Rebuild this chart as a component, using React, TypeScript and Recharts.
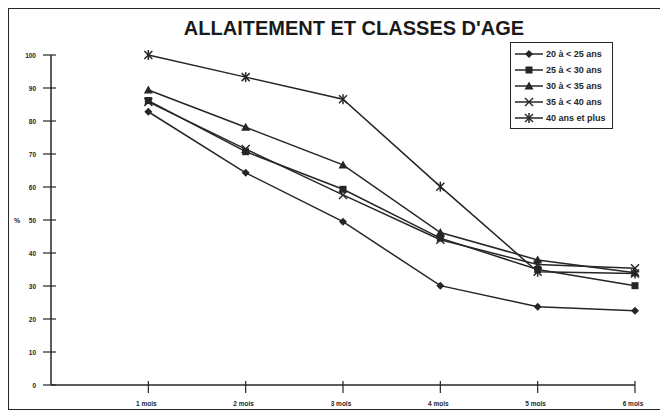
import { LineChart, Line, XAxis, YAxis } from 'recharts'

const months = [1, 2, 3, 4, 5, 6]
const monthLabels = ['1 mois', '2 mois', '3 mois', '4 mois', '5 mois', '6 mois']
const yTicks = [0, 10, 20, 30, 40, 50, 60, 70, 80, 90, 100]

const age20 = [82.8, 64.3, 49.5, 30.1, 23.7, 22.5]
const age25 = [86.2, 70.7, 59.3, 44.5, 35.0, 30.1]
const age30 = [89.4, 78.1, 66.7, 46.2, 37.9, 34.0]
const age35 = [85.8, 71.5, 57.6, 44.0, 36.5, 35.4]
const age40 = [100, 93.3, 86.6, 60.1, 34.3, 33.8]

const INK = '#262626'

const data = months.map((m, i) => ({
  m,
  a20: age20[i],
  a25: age25[i],
  a30: age30[i],
  a35: age35[i],
  a40: age40[i],
}))

const drawMarker = (kind: string, cx: number, cy: number, key?: any) => {
  switch (kind) {
    case 'diamond':
      return <path key={key} d={`M${cx},${cy - 4}L${cx + 4},${cy}L${cx},${cy + 4}L${cx - 4},${cy}Z`} fill={INK} />
    case 'square':
      return <rect key={key} x={cx - 3.5} y={cy - 3.5} width={7} height={7} fill={INK} />
    case 'triangle':
      return <path key={key} d={`M${cx},${cy - 4.5}L${cx + 4.5},${cy + 3.5}L${cx - 4.5},${cy + 3.5}Z`} fill={INK} />
    case 'cross':
      return (
        <g key={key} stroke={INK} strokeWidth={1.5}>
          <line x1={cx - 4} y1={cy - 4} x2={cx + 4} y2={cy + 4} />
          <line x1={cx - 4} y1={cy + 4} x2={cx + 4} y2={cy - 4} />
        </g>
      )
    default:
      return (
        <g key={key} stroke={INK} strokeWidth={1.5}>
          <line x1={cx - 4} y1={cy - 4} x2={cx + 4} y2={cy + 4} />
          <line x1={cx - 4} y1={cy + 4} x2={cx + 4} y2={cy - 4} />
          <line x1={cx} y1={cy - 5} x2={cx} y2={cy + 5} />
        </g>
      )
  }
}

const series = [
  { key: 'a20', name: '20 à < 25 ans', marker: 'diamond' },
  { key: 'a25', name: '25 à < 30 ans', marker: 'square' },
  { key: 'a30', name: '30 à < 35 ans', marker: 'triangle' },
  { key: 'a35', name: '35 à < 40 ans', marker: 'cross' },
  { key: 'a40', name: '40 ans et plus', marker: 'star' },
]

const tickFont = { fontFamily: 'Liberation Sans, Arial, sans-serif', fontWeight: 700, fontSize: 6.5, fill: INK }

const YTick = ({ x, y, payload }: any) => (
  <g>
    <line x1={x - 6} y1={y} x2={x + 7} y2={y} stroke={INK} strokeWidth={1.2} />
    <text x={x - 13} y={y} dy={2.5} textAnchor="end" {...tickFont}>
      {payload.value}
    </text>
  </g>
)

const XTick = ({ x, y, payload }: any) => (
  <g>
    <line x1={x} y1={y - 6} x2={x} y2={y + 6} stroke={INK} strokeWidth={1.2} />
    <text x={x - 2} y={y + 19} textAnchor="middle" {...tickFont}>
      {monthLabels[months.indexOf(payload.value)]}
    </text>
  </g>
)

const LegendBox = () => (
  <div
    style={{
      position: 'absolute',
      left: 501,
      top: 33,
      border: `1.5px solid ${INK}`,
      background: '#fff',
      padding: '3px 4px 2px 3px',
      width: 94,
    }}
  >
    {series.map((s) => (
      <div key={s.key} style={{ display: 'flex', alignItems: 'center', height: 16 }}>
        <svg width={30} height={12}>
          <line x1={1} y1={6} x2={29} y2={6} stroke={INK} strokeWidth={1.5} />
          {drawMarker(s.marker, 15, 6)}
        </svg>
        <span
          style={{
            fontFamily: 'Liberation Sans, Arial, sans-serif',
            fontWeight: 700,
            fontSize: 9,
            color: INK,
            marginLeft: 2,
            whiteSpace: 'nowrap',
          }}
        >
          {s.name}
        </span>
      </div>
    ))}
  </div>
)

export default function App() {
  return (
    <div
      style={{
        position: 'relative',
        width: 654,
        height: 400,
        border: `1.5px solid ${INK}`,
        background: '#fff',
      }}
    >
      <div
        style={{
          position: 'absolute',
          top: 8,
          left: 18,
          width: 654,
          textAlign: 'center',
          fontFamily: 'Liberation Sans, Arial, sans-serif',
          fontWeight: 700,
          fontSize: 20,
          letterSpacing: 0,
          color: '#1a1a1a',
        }}
      >
        ALLAITEMENT ET CLASSES D&apos;AGE
      </div>
      <div
        style={{
          position: 'absolute',
          left: 5,
          top: 208,
          fontFamily: 'Liberation Sans, Arial, sans-serif',
          fontWeight: 700,
          fontSize: 7,
          color: INK,
        }}
      >
        %
      </div>
      <LineChart width={654} height={400} data={data} margin={{ top: 46, right: 28, bottom: 4, left: 12 }}>
        <XAxis
          dataKey="m"
          type="number"
          domain={[0, 6]}
          ticks={months}
          tick={<XTick />}
          tickLine={false}
          tickSize={0}
          height={20}
          axisLine={{ stroke: INK, strokeWidth: 1.5 }}
        />
        <YAxis
          type="number"
          domain={[0, 100]}
          ticks={yTicks}
          tick={<YTick />}
          tickLine={false}
          tickSize={0}
          width={30}
          axisLine={{ stroke: INK, strokeWidth: 1.5 }}
        />
        {series.map((s) => (
          <Line
            key={s.key}
            dataKey={s.key}
            name={s.name}
            stroke={INK}
            strokeWidth={1.5}
            isAnimationActive={false}
            dot={(p: any) => drawMarker(s.marker, p.cx, p.cy, p.index)}
            activeDot={false}
          />
        ))}
      </LineChart>
      <LegendBox />
    </div>
  )
}
